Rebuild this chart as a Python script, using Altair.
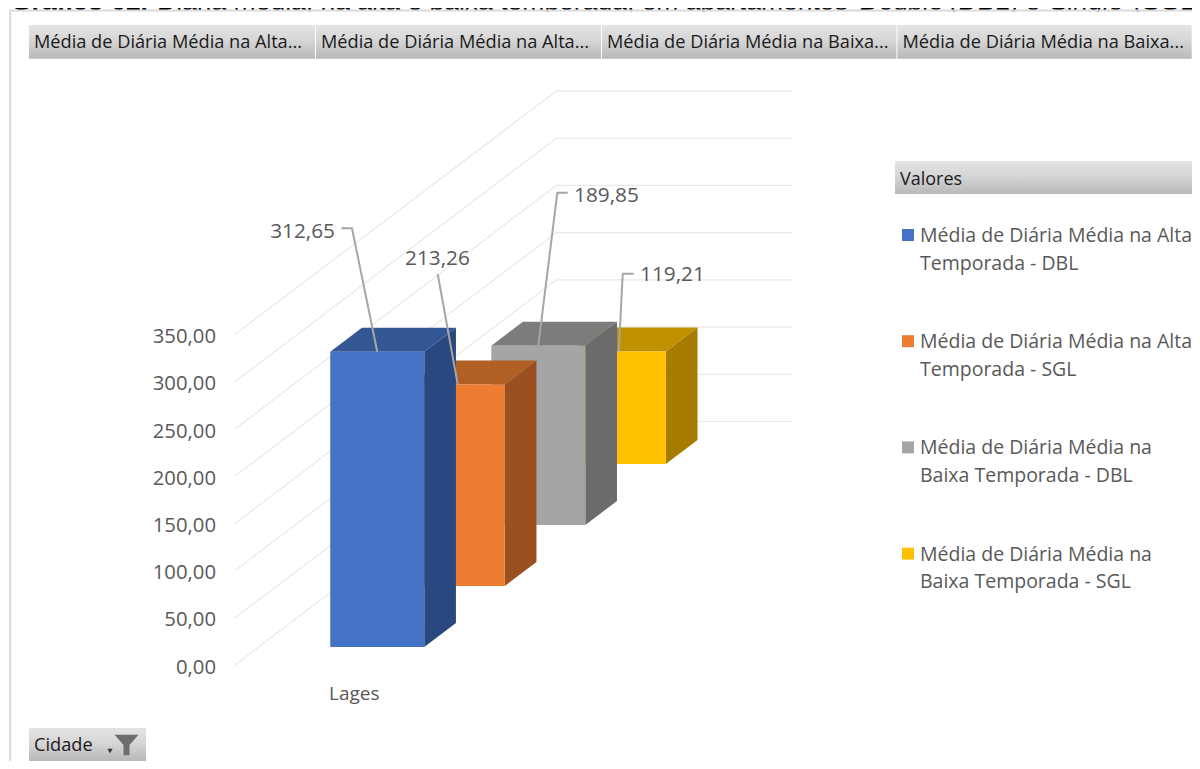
import altair as alt
import pandas as pd

# ---- data ----
SERIES = ["Média de Diária Média na Alta Temporada - DBL",
          "Média de Diária Média na Alta Temporada - SGL",
          "Média de Diária Média na Baixa Temporada - DBL",
          "Média de Diária Média na Baixa Temporada - SGL"]
VALUES = [312.65, 213.26, 189.85, 119.21]
LABELS = ["312,65", "213,26", "189,85", "119,21"]
CATEGORY = "Lages"
TICKS = [0, 50, 100, 150, 200, 250, 300, 350]
TICK_LABELS = ["0,00", "50,00", "100,00", "150,00", "200,00", "250,00", "300,00", "350,00"]
LEGEND_LINES = [("Média de Diária Média na Alta", "Temporada - DBL"),
                ("Média de Diária Média na Alta", "Temporada - SGL"),
                ("Média de Diária Média na", "Baixa Temporada - DBL"),
                ("Média de Diária Média na", "Baixa Temporada - SGL")]
BUTTONS = ["Média de Diária Média na Alta...", "Média de Diária Média na Alta...",
           "Média de Diária Média na Baixa...", "Média de Diária Média na Baixa..."]
CAPTION = ["Gráfico 02.", "Diária média, na alta e baixa temporada, em apartamentos",
           "Double", "(DBL) e", "Single", "(SGL)"]

# ---- styles ----
FRONT = ["#4472C4", "#ED7D31", "#A5A5A5", "#FFC000"]
TOP = ["#335795", "#B25F25", "#7C7C7C", "#BF9000"]
SIDE = ["#2A4880", "#9A5020", "#6B6B6B", "#A67C00"]
FONT = "Open Sans"
TXT = "#595959"
BTN_TXT = "#1a1a1a"
GRID = "#E9E9E9"

# ---- layout (page pixels) ----
W, H = 1184, 753
PX = 47.22 / 50          # pixels per value unit
Y0 = 665                 # page y of the value 0 at the front of the floor
FLOOR_DX = 1.32          # x shift per pixel of depth
SLOT = 61                # depth slot per series
GAP = 18                 # first gap in depth
DEPTH = 24               # bar depth
BAR_X = 306.5            # left of a bar before the depth shift
BAR_W = 94
GX0, GX_BACK_END = 235, 792
FLOOR = 243.5


def v(py):
    return (Y0 - py) / PX


x_s = alt.Scale(domain=[8, 8 + W], range=[0, W], nice=False, zero=False)
y_s = alt.Scale(domain=[v(8 + H), v(8)], nice=False, zero=False)


def X(f="x"):
    return alt.X(f, type="quantitative", scale=x_s, axis=None)


def X2(f="x2"):
    return alt.X2(f)


def Y(f="y"):
    return alt.Y(f, type="quantitative", scale=y_s, axis=None)


def Y2(f="y2"):
    return alt.Y2(f)


def rect(x, x2, y, y2, fill):
    df = pd.DataFrame({"x": [x], "x2": [x2], "y": [v(y)], "y2": [v(y2)]})
    return alt.Chart(df).mark_rect(fill=fill, strokeWidth=0).encode(X(), X2(), Y(), Y2())


def text(s, x, y, size=19.5, color=TXT, align="left", font=FONT, weight="normal", style="normal"):
    df = pd.DataFrame({"x": [x], "y": [v(y)], "t": [s]})
    return alt.Chart(df).mark_text(font=font, fontSize=size, color=color, align=align,
                                   baseline="middle", fontWeight=weight, fontStyle=style).encode(
        X(), Y(), text="t:N")


def line(xs, ys, color, width):
    df = pd.DataFrame({"x": xs, "y": [v(p) for p in ys], "o": list(range(len(xs)))})
    return alt.Chart(df).mark_line(color=color, strokeWidth=width).encode(X(), Y(), order="o:Q")


GRAD = alt.LinearGradient(gradient="linear", x1=0, x2=0, y1=0, y2=1,
                          stops=[alt.GradientStop(color="#E4E4E4", offset=0),
                                 alt.GradientStop(color="#D6D6D6", offset=0.45),
                                 alt.GradientStop(color="#B8B8B8", offset=1)])

layers = []

# gridlines on the wall and floor
grid_rows = []
for t in TICKS:
    grid_rows += [dict(t=t, x=GX0, y=t, o=0),
                  dict(t=t, x=GX0 + FLOOR * FLOOR_DX, y=t + FLOOR / PX, o=1),
                  dict(t=t, x=GX_BACK_END, y=t + FLOOR / PX, o=2)]
layers.append(alt.Chart(pd.DataFrame(grid_rows)).mark_line(color=GRID, strokeWidth=1.2).encode(
    X(), Y(), detail="t:N", order="o:Q"))

# value labels, placed through the same value scale
tick_df = pd.DataFrame({"y": TICKS, "t": TICK_LABELS, "x": [216] * len(TICKS)})
layers.append(alt.Chart(tick_df).mark_text(font=FONT, fontSize=20.3, color=TXT, align="right",
                                           baseline="middle", dy=2.7).encode(X(), Y(), text="t:N"))

# the 3-D bars, back to front
tops = []
for i in [3, 2, 1, 0]:
    d = GAP + SLOT * i
    left = BAR_X + d * FLOOR_DX
    right = left + BAR_W
    base = d / PX
    top = base + VALUES[i]
    back = DEPTH / PX
    dxb = DEPTH * FLOOR_DX
    side = pd.DataFrame({"x": [right, right + dxb], "y": [top, top + back], "y2": [base, base + back]})
    layers.append(alt.Chart(side).mark_area(color=SIDE[i], strokeWidth=0).encode(X(), Y(), Y2()))
    roof = pd.DataFrame({"x": [left, left + dxb], "x2": [right, right + dxb], "y": [top, top + back]})
    layers.append(alt.Chart(roof).mark_area(color=TOP[i], orient="horizontal", strokeWidth=0).encode(
        X(), X2(), Y()))
    face = pd.DataFrame({"x": [left], "x2": [right], "y": [base], "y2": [top]})
    layers.append(alt.Chart(face).mark_rect(fill=FRONT[i], strokeWidth=0).encode(X(), X2(), Y(), Y2()))
    tops.append((i, (left + right) / 2, Y0 - top * PX))

# leader lines and data labels
ELBOW = {0: [(352, 228.3), (341.5, 228.3)],
         1: [(437.7, 274)],
         2: [(557.3, 192.7), (567.7, 192.7)],
         3: [(622.7, 273.7), (633.7, 273.7)]}
LABEL_AT = {0: (335, 232, "right"), 1: (405, 259, "left"), 2: (574, 196, "left"), 3: (640, 275.3, "left")}
for i, cx, cy in sorted(tops):
    pts = [(cx, cy)] + ELBOW[i]
    layers.append(line([p[0] for p in pts], [p[1] for p in pts], "#A6A6A6", 2))
    lx, ly, la = LABEL_AT[i]
    layers.append(text(LABELS[i], lx, ly, size=20.8, align=la))

layers.append(text(CATEGORY, 329, 694, size=19))

# caption above the chart, cut by the page's top edge as in the screenshot
for s, x0, weight, style in zip(CAPTION, [11, 157, 860, 949, 1050, 1133],
                                ["bold", "normal", "normal", "normal", "normal", "normal"],
                                ["normal", "normal", "italic", "normal", "italic", "normal"]):
    layers.append(text(s, x0, 2.05, size=26.5, color="#000000", font="Liberation Sans", weight=weight, style=style))
layers.append(rect(11, 1192, 11.5, 25, "#FFFFFF"))

# frame of the pivot chart
layers.append(rect(10, 1192, 9.6, 11.6, "#DADADA"))
layers.append(rect(9.2, 11.2, 9.6, 761, "#DADADA"))

# field buttons
for (x0, x1), s in zip([(29, 315), (316, 601), (602, 896.5), (897.5, 1191.7)], BUTTONS):
    layers.append(rect(x0, x1, 25, 58.7, GRAD))
    layers.append(text(s, x0 + 5, 43, size=18.2, color=BTN_TXT))

# legend
layers.append(rect(895, 1192, 161, 194, GRAD))
layers.append(text("Valores", 900, 179.5, size=18, color=BTN_TXT))
for i, (a, b) in enumerate(LEGEND_LINES):
    yy = 235 + 106.2 * i
    layers.append(rect(902, 914, yy - 6, yy + 6, FRONT[i]))
    layers.append(text(a, 920, yy + 1, size=19.5))
    layers.append(text(b, 920, yy + 28.5, size=19.5))

# filter button
layers.append(rect(29, 146, 728, 761, GRAD))
layers.append(text("Cidade", 34, 746, size=18.2, color=BTN_TXT))
funnel = pd.DataFrame({"x": [126.5], "y": [v(745)]})
layers.append(alt.Chart(funnel).mark_point(
    shape="M-1,-0.85 L1,-0.85 L0.25,0 L0.25,0.85 L-0.25,0.85 L-0.25,0 Z",
    filled=True, fill="#6E6E6E", opacity=1, size=24 * 24, strokeWidth=0).encode(X(), Y()))
arrow = pd.DataFrame({"x": [110], "y": [v(751)]})
layers.append(alt.Chart(arrow).mark_point(shape="triangle-down", filled=True, fill="#333333", opacity=1,
                                          size=28, strokeWidth=0).encode(X(), Y()))

chart = alt.layer(*layers).properties(
    width=W, height=H, padding=0, autosize=alt.AutoSizeParams(type="none"),
    background="white"
).configure_view(stroke=None)

chart.save("out.html", embed_options={"renderer": "svg", "actions": False})
